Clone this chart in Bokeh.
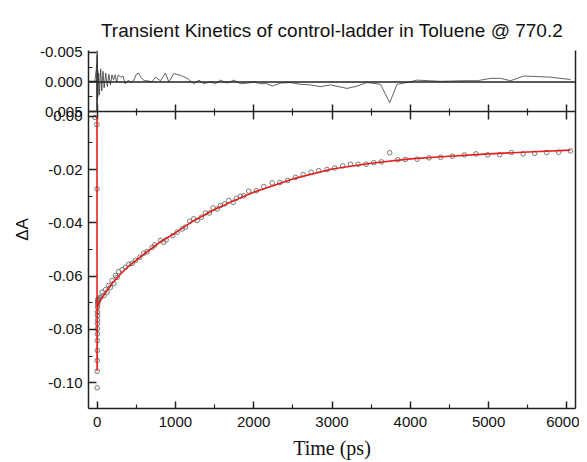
from bokeh.plotting import figure
from bokeh.models import (Range1d, LinearAxis, FixedTicker, PrintfTickFormatter,
                          Span, Grid)
from bokeh.embed import file_html
from bokeh.resources import INLINE

# ---------------- data ----------------
time_ps = [-30, -3, -1, 0, 0.5, 1, 1.5, 2, 2.5, 3,
           3.5, 4, 4.5, 5, 6, 7, 8, 10, 12, 15,
           20, 30, 43, 64, 85, 106, 128, 148, 170, 192,
           213, 234, 255, 276, 319, 361, 404, 447, 489, 545,
           596, 639, 703, 736, 809, 851, 881, 966, 1022, 1086,
           1128, 1183, 1234, 1277, 1332, 1383, 1434, 1481, 1533, 1575,
           1630, 1681, 1737, 1779, 1830, 1872, 1936, 2034, 2128, 2235,
           2332, 2434, 2533, 2631, 2733, 2831, 2937, 3034, 3137, 3235,
           3333, 3436, 3533, 3631, 3737, 3839, 3937, 4087, 4240, 4388,
           4538, 4691, 4840, 4989, 5142, 5291, 5441, 5589, 5742, 5895,
           6045]
delta_a = [-0.0004, -0.0031, -0.0273, -0.1019, -0.0957, -0.0917, -0.0879, -0.0842, -0.0817, -0.0798,
           -0.0779, -0.0764, -0.0748, -0.0735, -0.0717, -0.0705, -0.0698, -0.0692, -0.0688, -0.0685,
           -0.0689, -0.0682, -0.0679, -0.0660, -0.0673, -0.0651, -0.0660, -0.0635, -0.0642, -0.0617,
           -0.0628, -0.0598, -0.0605, -0.0583, -0.0576, -0.0567, -0.0556, -0.0552, -0.0541, -0.0529,
           -0.0514, -0.0508, -0.0492, -0.0483, -0.0466, -0.0473, -0.0464, -0.0448, -0.0435, -0.0423,
           -0.0416, -0.0394, -0.0385, -0.0391, -0.0379, -0.0363, -0.0363, -0.0344, -0.0348, -0.0335,
           -0.0329, -0.0316, -0.0323, -0.0308, -0.0300, -0.0298, -0.0281, -0.0279, -0.0264, -0.0250,
           -0.0249, -0.0241, -0.0229, -0.0219, -0.0210, -0.0204, -0.0200, -0.0194, -0.0186, -0.0180,
           -0.0180, -0.0180, -0.0174, -0.0171, -0.0137, -0.0163, -0.0162, -0.0161, -0.0156, -0.0154,
           -0.0150, -0.0145, -0.0141, -0.0145, -0.0144, -0.0136, -0.0141, -0.0139, -0.0136, -0.0135,
           -0.0130]

fit_t = [-30, -2, 0, 3, 8, 20, 50, 100, 200, 300,
         400, 600, 800, 1000, 1200, 1500, 1800, 2000, 2500, 3000,
         3500, 4000, 4500, 5000, 5500, 6045]
fit_v = [0.0, -0.0003, -0.0955, -0.0745, -0.0715, -0.0702, -0.0688, -0.0665, -0.0625, -0.0592,
         -0.0563, -0.0517, -0.0473, -0.0438, -0.0398, -0.0350, -0.0310, -0.0285, -0.0235, -0.0198,
         -0.0176, -0.0160, -0.0150, -0.0141, -0.0134, -0.0127]

# residuals (the spikes at time zero run off the top and bottom of the panel)
res_t = [-30, -3, -1, 0, 0.5, 1, 2, 3, 5, 8,
         10, 20, 30, 45, 60, 75, 90, 110, 130, 150,
         170, 190, 210, 230, 250, 270, 300, 330, 360, 400,
         430, 470, 500, 530, 560, 600, 640, 700, 745, 810,
         873, 916, 980, 1065, 1150, 1235, 1300, 1363, 1448, 1512,
         1576, 1661, 1746, 1831, 1916, 2001, 2086, 2171, 2235, 2342,
         2468, 2596, 2724, 2852, 2980, 3193, 3321, 3449, 3619, 3737,
         3831, 3959, 4087, 4385, 4683, 4854, 5025, 5153, 5280, 5451,
         5792, 6047]
res_v = [0.0, -0.003, 0.005, -0.0053, 0.005, -0.0045, 0.003, -0.004, 0.003, -0.002,
         0.0025, -0.0015, 0.0022, -0.0022, 0.0015, -0.0018, 0.001, -0.0015, 0.0008, -0.0013,
         0.0005, -0.0012, -0.0003, -0.0012, 0.0, -0.0012, -0.0008, -0.001, 0.0003, -0.0003,
         0.0001, -0.0003, -0.0013, -0.0015, -0.0008, -0.0002, -0.0002, 0.0, -0.0008, -0.0002,
         -0.0015, 0.0, -0.0014, -0.0011, -0.0006, 0.0003, -0.0003, 0.0003, 0.0, 0.0003,
         -0.0003, 0.0002, -0.0003, 0.0003, 0.0002, 0.0, 0.0003, 0.0003, 0.0007, 0.0002,
         0.0001, 0.0004, 0.0005, 0.0008, 0.0005, 0.0011, 0.0007, 0.0001, 0.0004, 0.0035,
         0.0004, 0.0001, -0.0003, -0.0001, -0.0002, -0.0002, -0.0006, -0.0006, -0.0002, -0.001,
         -0.0008, -0.0004]

x_major = [0, 1000, 2000, 3000, 4000, 5000, 6000]
x_minor = [500, 1500, 2500, 3500, 4500, 5500]
y_major = [-0.10, -0.08, -0.06, -0.04, -0.02, 0.00]
y_minor = [-0.09, -0.07, -0.05, -0.03, -0.01]
r_major = [-0.005, 0.0, 0.005]
r_minor = [-0.0025, 0.0025]

TITLE = "Transient Kinetics of control-ladder in Toluene @ 770.2"
XLABEL = "Time (ps)"
YLABEL = "\u0394A"

FONT = "Liberation Sans"
AX = "#222222"
TXT = "#111111"

# ---------------- layout geometry ----------------
FRAME_H = 358
M_LO, M_HI = -0.1097, 0.0247          # main (ΔA) scale, whole frame
R_BOT, R_TOP = 0.0551, -0.0053        # residual scale (inverted), whole frame


def res_to_main(r):
    f = (r - R_TOP) / (R_BOT - R_TOP)
    return M_HI - f * (M_HI - M_LO)


def px_to_res(dy):
    return dy * (R_BOT - R_TOP) / FRAME_H


p = figure(frame_width=487, frame_height=FRAME_H,
           min_border_left=88, min_border_right=4, min_border_top=50, min_border_bottom=52,
           x_range=Range1d(-110, 6110), y_range=Range1d(M_LO, M_HI),
           x_axis_type=None, y_axis_type=None,
           output_backend="svg", toolbar_location=None)
p.extra_y_ranges = {"res": Range1d(R_BOT, R_TOP)}
p.outline_line_color = None
p.background_fill_color = "white"
p.border_fill_color = "white"

p.title.text = TITLE
p.title.align = "center"
p.title.text_font = FONT
p.title.text_font_size = "19px"
p.title.text_font_style = "normal"
p.title.text_color = TXT
p.title.standoff = 20

# left axis: main ticks plus residual ticks (placed on the residual scale)
left_ticks = y_major + [res_to_main(r) for r in r_major]
left_minor = y_minor + [res_to_main(r) for r in r_minor]
overrides = {}
for r in r_major:
    overrides[res_to_main(r)] = "%.3f" % r
left = LinearAxis(ticker=FixedTicker(ticks=left_ticks, minor_ticks=left_minor),
                  formatter=PrintfTickFormatter(format="%.2f"),
                  major_label_overrides=overrides,
                  major_tick_in=8, major_tick_out=0, minor_tick_in=4, minor_tick_out=0,
                  major_label_standoff=6,
                  axis_label=YLABEL, axis_label_standoff=5)
bottom = LinearAxis(ticker=FixedTicker(ticks=x_major, minor_ticks=x_minor),
                    major_tick_in=7, major_tick_out=0, minor_tick_in=4, minor_tick_out=0,
                    major_label_standoff=8,
                    axis_label=XLABEL, axis_label_standoff=7)
right = LinearAxis(ticker=FixedTicker(ticks=[]), major_tick_in=0, major_tick_out=0,
                   minor_tick_in=0, minor_tick_out=0)
for a in [left, bottom]:
    a.major_label_text_font = FONT
    a.major_label_text_font_size = "15px"
    a.major_label_text_color = TXT
    a.axis_label_text_color = TXT
    a.axis_label_text_font_style = "normal"
left.axis_label_text_font = FONT
left.axis_label_text_font_size = "17px"
bottom.axis_label_text_font = "Liberation Serif"
bottom.axis_label_text_font_size = "20px"
for a in [left, bottom, right]:
    a.axis_line_color = AX
    a.axis_line_width = 1.5
    a.major_tick_line_color = AX
    a.major_tick_line_width = 1.5
    a.minor_tick_line_color = AX
    a.minor_tick_line_width = 1.2
p.add_layout(left, "left")
p.add_layout(bottom, "below")
p.add_layout(right, "right")

# separator between residual panel and main panel, with ticks crossing it
sep = r_major[-1]
p.add_layout(Span(location=sep, dimension="width", y_range_name="res",
                  line_color=AX, line_width=1.5))
p.add_layout(Grid(dimension=0, ticker=FixedTicker(ticks=x_major), y_range_name="res",
                  cross_bounds=(sep - px_to_res(7), sep + px_to_res(8)),
                  grid_line_color=AX, grid_line_width=1.5))
p.add_layout(Grid(dimension=0, ticker=FixedTicker(ticks=x_minor), y_range_name="res",
                  cross_bounds=(sep - px_to_res(3.5), sep + px_to_res(3.5)),
                  grid_line_color=AX, grid_line_width=1.2))

# residual panel
p.add_layout(Span(location=0, dimension="width", y_range_name="res",
                  line_color=AX, line_width=1.5))
p.line(res_t, res_v, y_range_name="res", line_color="#3a3a3a", line_width=0.8)

# main panel
p.scatter(time_ps, delta_a, marker="circle", size=4.6, fill_color=None,
          line_color="#6a6a6a", line_width=0.9)
p.line(fit_t, fit_v, line_color="#e3211c", line_width=1.6)

open("out.html", "w").write(file_html(p, INLINE))
